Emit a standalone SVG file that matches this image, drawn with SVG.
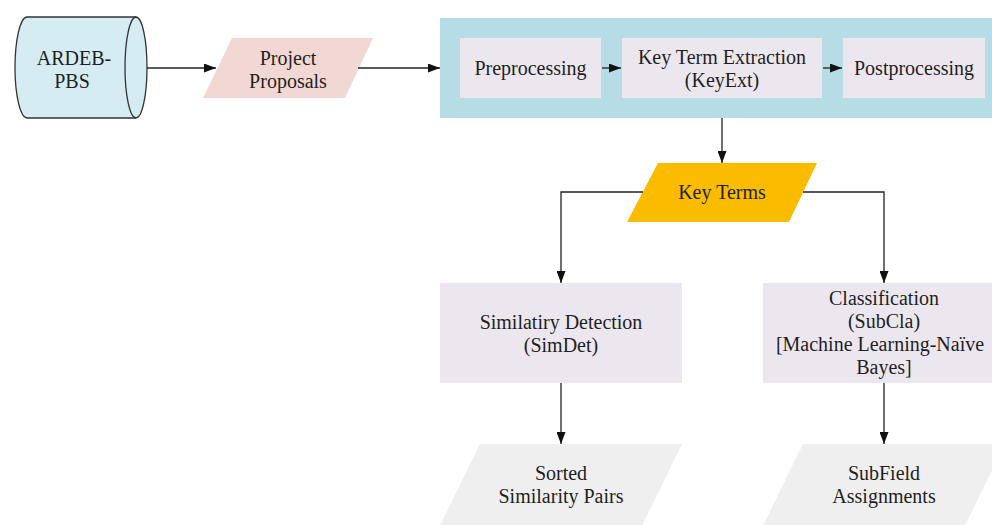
<svg xmlns="http://www.w3.org/2000/svg" width="992" height="525" viewBox="0 0 992 525">
  <style>
    text { font-family: "Liberation Serif", "Times New Roman", serif; font-size: 20px; fill: #1f1f1f; text-anchor: middle; }
    .edge { fill: none; stroke: #222; stroke-width: 1.3; }
    .proc { fill: #ece7ef; }
    .out { fill: #efefef; }
  </style>
  <defs>
    <marker id="arrow" markerUnits="userSpaceOnUse" markerWidth="12" markerHeight="9" refX="12" refY="4.5" orient="auto">
      <path d="M0,0 L12,4.5 L0,9 Z" fill="#111"/>
    </marker>
  </defs>

  <rect width="992" height="525" fill="#ffffff"/>

  <!-- source database -->
  <g id="ardeb-pbs">
    <path d="M27,17 L136,17 A11,50.5 0 0 1 136,118 L27,118 A12,50.5 0 0 1 27,17 Z" fill="#d6ecf3" stroke="#333" stroke-width="1.3"/>
    <path d="M136,17 A11,50.5 0 0 0 136,118" fill="none" stroke="#333" stroke-width="1.3"/>
    <text x="74" y="65">ARDEB-</text>
    <text x="72" y="88">PBS</text>
  </g>

  <g id="project-proposals">
    <polygon points="232,38 373,38 345,98 203,98" fill="#f2d8d5"/>
    <text x="288" y="65">Project</text>
    <text x="288" y="88">Proposals</text>
  </g>

  <!-- key term extraction stage -->
  <g id="keyext-stage">
    <rect x="440" y="18" width="560" height="100" fill="#b6dde6"/>
  </g>

  <g id="preprocessing">
    <rect class="proc" x="460" y="38" width="141" height="60"/>
    <text x="530.5" y="75">Preprocessing</text>
  </g>

  <g id="keyext">
    <rect class="proc" x="622" y="38" width="200" height="60"/>
    <text x="722" y="64">Key Term Extraction</text>
    <text x="722" y="87">(KeyExt)</text>
  </g>

  <g id="postprocessing">
    <rect class="proc" x="843" y="38" width="142" height="60"/>
    <text x="914" y="75">Postprocessing</text>
  </g>

  <g id="key-terms">
    <polygon points="658,163 817,163 789,222 627,222" fill="#fbbc00"/>
    <text x="722" y="199">Key Terms</text>
  </g>

  <g id="simdet">
    <rect class="proc" x="440" y="283" width="242" height="100"/>
    <text x="561" y="329">Similatiry Detection</text>
    <text x="561" y="352">(SimDet)</text>
  </g>

  <g id="subcla">
    <rect class="proc" x="763" y="283" width="242" height="100"/>
    <text x="884" y="305">Classification</text>
    <text x="884" y="328">(SubCla)</text>
    <text x="880" y="351">[Machine Learning-Naïve</text>
    <text x="884" y="374">Bayes]</text>
  </g>

  <g id="sorted-pairs">
    <polygon points="480,444 682,444 632,546 430,546" class="out"/>
    <text x="561" y="480">Sorted</text>
    <text x="561" y="503">Similarity Pairs</text>
  </g>

  <g id="subfield-assignments">
    <polygon points="803,444 1005,444 955,546 753,546" class="out"/>
    <text x="884" y="480">SubField</text>
    <text x="884" y="503">Assignments</text>
  </g>

  <!-- connectors -->
  <g id="edges">
    <line class="edge" x1="147" y1="68" x2="216" y2="68" marker-end="url(#arrow)"/>
    <line class="edge" x1="358" y1="68" x2="440" y2="68" marker-end="url(#arrow)"/>
    <line class="edge" x1="602" y1="68" x2="621" y2="68" marker-end="url(#arrow)"/>
    <line class="edge" x1="823" y1="68" x2="842" y2="68" marker-end="url(#arrow)"/>
    <line class="edge" x1="722" y1="118" x2="722" y2="163" marker-end="url(#arrow)"/>
    <polyline class="edge" points="643,192 561,192 561,283" marker-end="url(#arrow)"/>
    <polyline class="edge" points="803,192 884,192 884,283" marker-end="url(#arrow)"/>
    <line class="edge" x1="561" y1="383" x2="561" y2="444" marker-end="url(#arrow)"/>
    <line class="edge" x1="884" y1="383" x2="884" y2="444" marker-end="url(#arrow)"/>
  </g>
</svg>
